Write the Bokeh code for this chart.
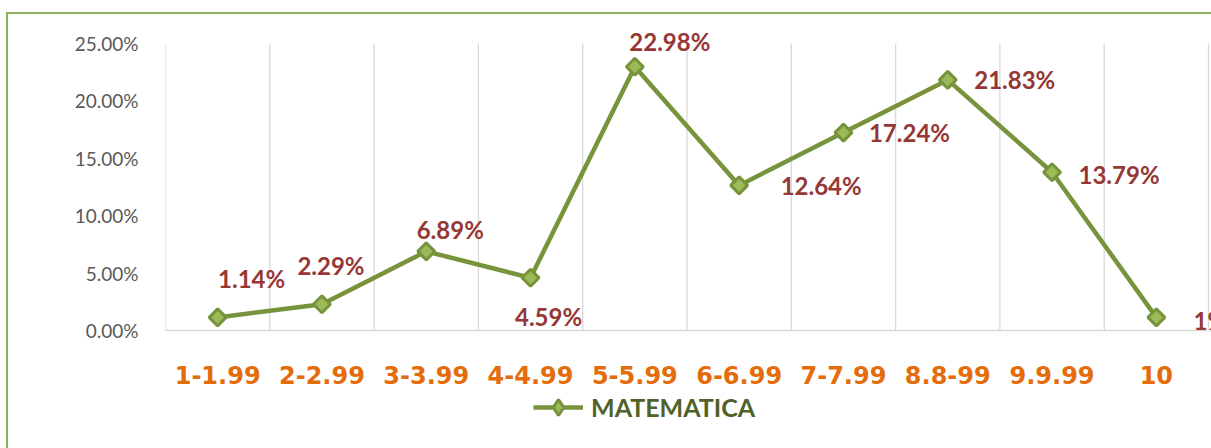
import math
from bokeh.plotting import figure
from bokeh.layouts import column
from bokeh.core.properties import value
from bokeh.models import (Range1d, FixedTicker, NumeralTickFormatter, ColumnDataSource,
                          LabelSet, Legend, LegendItem)
from bokeh.embed import file_html
from bokeh.resources import INLINE

# ---- data ----
categories = ["1-1.99", "2-2.99", "3-3.99", "4-4.99", "5-5.99",
              "6-6.99", "7-7.99", "8.8-99", "9.9.99", "10"]
matematica = [1.14, 2.29, 6.89, 4.59, 22.98, 12.64, 17.24, 21.83, 13.79, 1.14]
data_labels = ["1.14%", "2.29%", "6.89%", "4.59%", "22.98%",
               "12.64%", "17.24%", "21.83%", "13.79%", "1%"]
y_ticks = [0.0, 0.05, 0.10, 0.15, 0.20, 0.25]
series_name = "MATEMATICA"

# ---- label placement (screen px offsets, style only) ----
label_dx = [34, 9, 24, 18, 35, 82, 66, 67, 67, 54]
label_dy = [39, 39, 22, -39, 25, 0, 0, 0, -2, -3]

LINE_C = "#77933c"
MARK_FILL = "#9bbb59"

W, H = 1203, 378
LEG_H = 56
cat_px = 104.3
px_per_unit = 1148.0
left_b, top_b, bottom_b = 157, 6, 62
frame_w = W - left_b
frame_h = H - top_b - bottom_b

xs = [i + 0.5 for i in range(len(categories))]
ys = [v / 100.0 for v in matematica]

p = figure(width=W, height=H, output_backend="svg", toolbar_location=None,
           x_range=Range1d(0, frame_w / cat_px), y_range=Range1d(0, frame_h / px_per_unit),
           min_border_left=left_b, min_border_right=0, min_border_top=top_b,
           min_border_bottom=bottom_b)
p.background_fill_color = "white"
p.border_fill_color = "white"
p.outline_line_color = None

# grids: vertical separators between categories, from 0 to top tick
p.ygrid.visible = False
p.xgrid.visible = False
bounds = list(range(len(categories) + 1))
p.segment(x0=bounds, x1=bounds, y0=[y_ticks[0]] * len(bounds), y1=[y_ticks[-1]] * len(bounds),
          line_color="#d9d9d9", line_width=1.3)

# y axis
p.yaxis.ticker = FixedTicker(ticks=y_ticks)
p.yaxis.formatter = NumeralTickFormatter(format="0.00%")
p.yaxis.axis_line_color = None
p.yaxis.major_tick_line_color = None
p.yaxis.minor_tick_line_color = None
p.yaxis.major_label_standoff = 21
p.yaxis.major_label_text_font = "Lato"
p.yaxis.major_label_text_font_size = "19px"
p.yaxis.major_label_text_color = "#595959"

# x axis
p.xaxis.ticker = FixedTicker(ticks=xs)
p.xaxis.major_label_overrides = {x: c for x, c in zip(xs, categories)}
p.xaxis.axis_line_color = "#d9d9d9"
p.xaxis.axis_line_width = 1.5
p.xaxis.major_tick_line_color = None
p.xaxis.minor_tick_line_color = None
p.xaxis.major_label_standoff = 29
p.xaxis.major_label_text_font = "DejaVu Sans"
p.xaxis.major_label_text_font_style = "bold"
p.xaxis.major_label_text_font_size = "24px"
p.xaxis.major_label_text_color = "#e46c0a"

src = ColumnDataSource(dict(x=xs, y=ys, text=data_labels, dx=label_dx, dy=label_dy))

line_r = p.line("x", "y", source=src, line_color=LINE_C, line_width=4.5)
mark_r = p.scatter("x", "y", source=src, marker="square", angle=math.pi / 4, size=12,
                   fill_color=MARK_FILL, line_color=LINE_C, line_width=3)

labels = LabelSet(x="x", y="y", text="text", source=src, x_offset="dx", y_offset="dy",
                  text_align="center", text_baseline="middle",
                  text_font=value("Lato"), text_font_style="bold", text_font_size="24px",
                  text_color="#953735")
p.add_layout(labels)

# ---- legend strip below the chart (series drawn out of view, legend only) ----
# (its frame is aligned by the column with the main plot's frame)
p2 = figure(width=W, height=LEG_H, output_backend="svg", toolbar_location=None,
            x_range=Range1d(0, frame_w / cat_px), y_range=Range1d(1, 2),
            x_axis_location=None, y_axis_location=None,
            min_border=0, min_border_left=0, min_border_right=0,
            min_border_top=0, min_border_bottom=0)
p2.grid.visible = False
p2.outline_line_color = None
p2.background_fill_color = "white"
p2.border_fill_color = "white"
lg_line = p2.line("x", "y", source=src, line_color=LINE_C, line_width=4.5)
lg_mark = p2.scatter("x", "y", source=src, marker="diamond", size=16,
                     fill_color=MARK_FILL, line_color=LINE_C, line_width=3)

legend = Legend(items=[LegendItem(label=series_name, renderers=[lg_line, lg_mark])],
                orientation="horizontal", location=(368, 21),
                border_line_color=None, background_fill_alpha=0,
                label_text_font="Lato", label_text_font_style="bold",
                label_text_font_size="25px", label_text_color="#4f6228",
                glyph_width=50, glyph_height=40, label_standoff=8,
                padding=0, margin=0)
p2.add_layout(legend)

layout = column(p, p2, spacing=0,
                styles={"border-left": "2px solid #8db05a",
                        "border-top": "2px solid #8db05a",
                        "margin-left": "6px", "margin-top": "12px"})

open("out.html", "w").write(file_html(layout, INLINE))
